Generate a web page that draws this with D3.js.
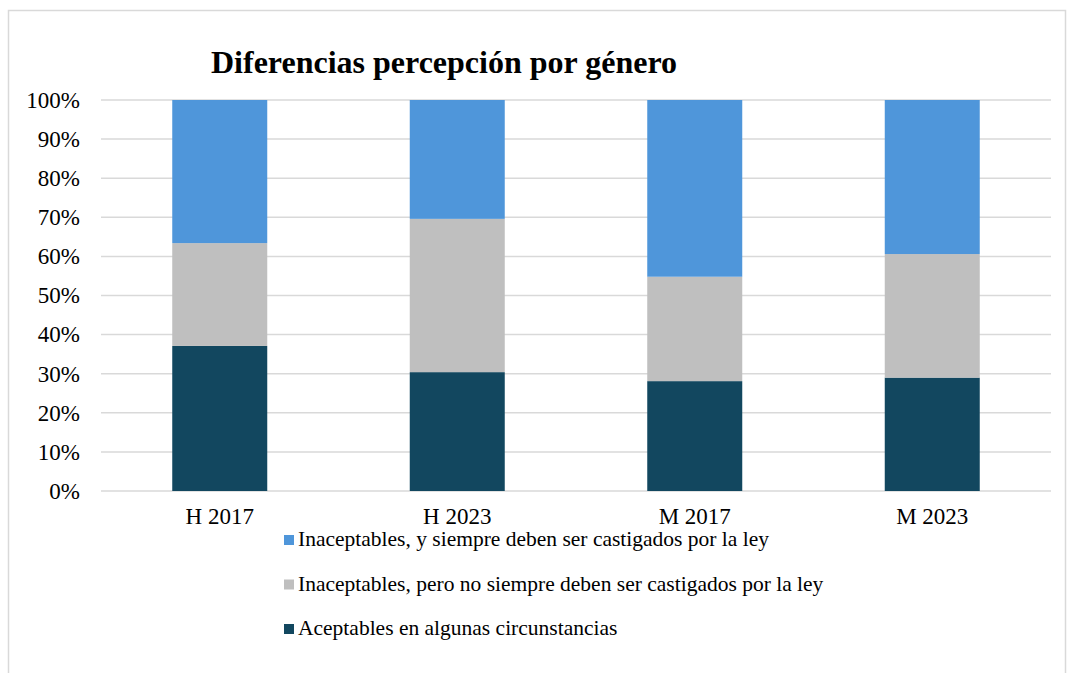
<!DOCTYPE html>
<html>
<head>
<meta charset="utf-8">
<script src="https://cdn.jsdelivr.net/npm/d3@7"></script>
<style>
  body { margin: 0; background: #fff; }
  text { font-family: "Liberation Serif", "Times New Roman", serif; fill: #000; }
</style>
</head>
<body>
<div class="canvas"></div>
<script>
// data (percent)
const categories = ['H 2017', 'H 2023', 'M 2017', 'M 2023'];
const aceptables = [37.1, 30.4, 28.1, 29.0];
const noSiempre = [26.3, 39.2, 26.7, 31.6];
const siempre = [36.6, 30.4, 45.2, 39.4];
const yTicks = [0, 10, 20, 30, 40, 50, 60, 70, 80, 90, 100];

const seriesNames = [
  'Aceptables en algunas circunstancias',
  'Inaceptables, pero no siempre deben ser castigados por la ley',
  'Inaceptables, y siempre deben ser castigados por la ley'
];
const colors = ['#12475f', '#bfbfbf', '#4f96da'];
const serif = '"Liberation Serif", "Times New Roman", serif';

// svg
const svg = d3.select('.canvas')
  .append('svg')
    .attr('width', 1067)
    .attr('height', 673);

// outer frame
svg.append('rect')
  .attr('x', 8.5).attr('y', 10.5)
  .attr('width', 1057).attr('height', 700)
  .attr('fill', 'none')
  .attr('stroke', '#d9d9d9')
  .attr('stroke-width', 1.5);

// margins
const margin = {top: 100, left: 101};
const graphWidth = 950;
const graphHeight = 391;

const graph = svg.append('g')
  .attr('transform', `translate(${margin.left}, ${margin.top})`);

// title
svg.append('text')
  .attr('x', 444).attr('y', 73)
  .attr('text-anchor', 'middle')
  .style('font-size', '32px')
  .style('font-weight', 'bold')
  .text('Diferencias percepción por género');

// scales
const y = d3.scaleLinear()
  .domain([0, 100])
  .range([graphHeight, 0]);

const x = d3.scaleBand()
  .domain(categories)
  .range([0, graphWidth])
  .paddingInner(0.6)
  .paddingOuter(0.3);

// gridlines
graph.append('g')
  .selectAll('line')
  .data(yTicks)
  .enter().append('line')
    .attr('x1', 0).attr('x2', graphWidth)
    .attr('y1', d => y(d)).attr('y2', d => y(d))
    .attr('stroke', '#d9d9d9')
    .attr('stroke-width', 1.5);

// stacked data
const table = categories.map((c, i) => ({
  cat: c, a: aceptables[i], b: noSiempre[i], c: siempre[i]
}));
const stack = d3.stack().keys(['a', 'b', 'c'])(table);

graph.selectAll('g.layer')
  .data(stack)
  .enter().append('g')
    .attr('class', 'layer')
    .attr('fill', (d, i) => colors[i])
  .selectAll('rect')
  .data(d => d)
  .enter().append('rect')
    .attr('x', d => x(d.data.cat))
    .attr('width', x.bandwidth())
    .attr('y', d => y(d[1]))
    .attr('height', d => y(d[0]) - y(d[1]));

// axes
const yAxis = d3.axisLeft(y)
  .tickValues(yTicks)
  .tickSize(0)
  .tickPadding(21)
  .tickFormat(d => d + '%');

const xAxis = d3.axisBottom(x)
  .tickSize(0)
  .tickPadding(17);

const yAxisGroup = graph.append('g').call(yAxis);
const xAxisGroup = graph.append('g')
  .attr('transform', `translate(0, ${graphHeight})`)
  .call(xAxis);

[yAxisGroup, xAxisGroup].forEach(g => {
  g.attr('font-family', serif).attr('font-size', 23);
  g.select('.domain').remove();
  g.selectAll('text')
    .style('font-family', serif)
    .style('font-size', '23px')
    .attr('fill', '#000');
});

// legend (top to bottom: siempre, no siempre, aceptables)
const legendOrder = [2, 1, 0];
const legend = svg.append('g')
  .attr('transform', 'translate(284, 535)');

legendOrder.forEach((si, row) => {
  const g = legend.append('g').attr('transform', `translate(0, ${row * 44.5})`);
  g.append('rect')
    .attr('width', 10).attr('height', 10)
    .attr('fill', colors[si]);
  g.append('text')
    .attr('x', 14).attr('y', 11)
    .style('font-size', '21.5px')
    .text(seriesNames[si]);
});
</script>
</body>
</html>
